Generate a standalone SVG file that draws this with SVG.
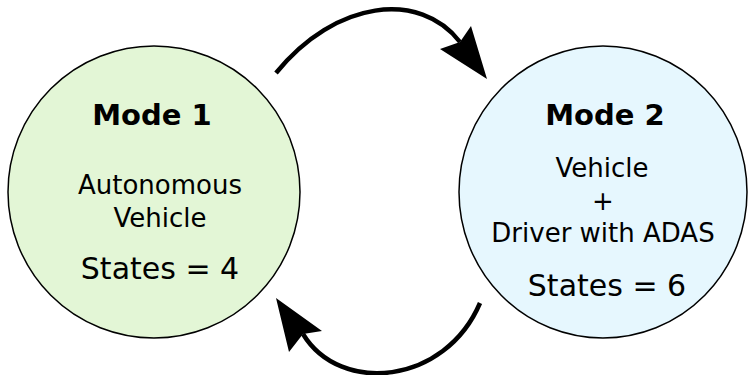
<svg xmlns="http://www.w3.org/2000/svg" width="750" height="375" viewBox="0 0 750 375">
  <style>
    .node { stroke: #000; stroke-width: 1.5; }
    .title { font-family: "DejaVu Sans", sans-serif; font-weight: bold; font-size: 29px; text-anchor: middle; }
    .body { font-family: "DejaVu Sans", sans-serif; font-size: 26px; text-anchor: middle; }
    .states { font-family: "DejaVu Sans", sans-serif; font-size: 30px; text-anchor: middle; }
    .edge { fill: none; stroke: #000; stroke-width: 4.5; }
    .head { fill: #000; stroke: none; }
  </style>
  <rect width="750" height="375" fill="#fff"/>
  <g id="mode1">
    <ellipse class="node" cx="154" cy="192" rx="146" ry="146" fill="#e3f6d6"/>
    <text class="title" x="152" y="125">Mode 1</text>
    <text class="body" x="160" y="194">Autonomous</text>
    <text class="body" x="160" y="227">Vehicle</text>
    <text class="states" x="160" y="279">States = 4</text>
  </g>
  <g id="mode2">
    <ellipse class="node" cx="603" cy="192" rx="144" ry="146" fill="#e6f7fe"/>
    <text class="title" x="605" y="125">Mode 2</text>
    <text class="body" x="602" y="177">Vehicle</text>
    <text class="body" x="603" y="210">+</text>
    <text class="body" x="603" y="242">Driver with ADAS</text>
    <text class="states" x="607" y="296">States = 6</text>
  </g>
  <g id="connectors">
    <path class="edge" d="M276,73 C335,0 420,-10 460,42"/>
    <polygon class="head" points="487,79 471,26 460,42 440,49"/>
    <path class="edge" d="M480,303 C445,385 340,395 303,334"/>
    <polygon class="head" points="276,298 289,352 303,334 322,331"/>
  </g>
</svg>
